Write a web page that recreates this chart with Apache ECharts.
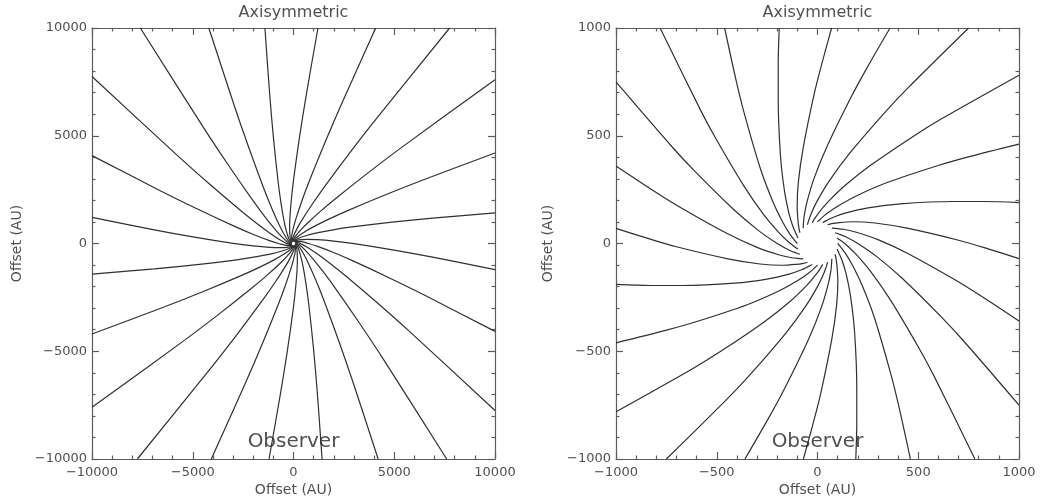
<!DOCTYPE html>
<html>
<head>
<meta charset="utf-8">
<script src="https://cdn.jsdelivr.net/npm/echarts@6/dist/echarts.min.js"></script>
<style>
  html, body { margin: 0; padding: 0; background: #ffffff; }
  #chart { width: 1041px; height: 503px; }
</style>
</head>
<body>
<div id="chart"></div>
<script>
// Panel texts
const panelTitles = ['Axisymmetric', 'Axisymmetric'];
const axisTitle = 'Offset (AU)';
const observerLabel = 'Observer';

// Axis ranges and major tick steps (AU)
const wideRange = [-10000, 10000];
const wideStep = 5000;
const coreRange = [-1000, 1000];
const coreStep = 500;

// Infall streamlines on the 10000 AU scale, [x, y] in AU, from the box edge
// inward to the 100 AU circle where each one lands.
const wideStreamlines = [
  // entering through the right edge
  [[10000, 7603], [5386, 4472], [3746, 3312], [2127, 2115], [1333, 1491], [713, 965], [339, 612], [61, 294], [-50, 87]],
  [[10000, 4201], [6360, 2925], [4476, 2229], [2602, 1493], [1674, 1095], [938, 748], [486, 504], [135, 268], [-26, 97]],
  [[10000, 1418], [6900, 1180], [4900, 995], [2900, 768], [1900, 624], [1100, 480], [600, 361], [200, 224], [0, 100]],
  [[10000, -1214], [6970, -647], [4991, -307], [3000, -8], [1997, 111], [1187, 179], [673, 193], [251, 164], [26, 97]],
  [[10000, -4079], [6565, -2428], [4741, -1588], [2896, -785], [1958, -409], [1192, -135], [700, 12], [285, 94], [50, 87]],
  [[10000, -7749], [5713, -4045], [4169, -2761], [2594, -1507], [1785, -902], [1117, -439], [679, -169], [300, 17], [71, 71]],
  // entering through the top edge
  [[-7603, 10000], [-4472, 5386], [-3312, 3746], [-2115, 2127], [-1491, 1333], [-965, 713], [-612, 339], [-294, 61], [-87, -50]],
  [[-4201, 10000], [-2925, 6360], [-2229, 4476], [-1493, 2602], [-1095, 1674], [-748, 938], [-504, 486], [-268, 135], [-97, -26]],
  [[-1418, 10000], [-1180, 6900], [-995, 4900], [-768, 2900], [-624, 1900], [-480, 1100], [-361, 600], [-224, 200], [-100, 0]],
  [[1214, 10000], [647, 6970], [307, 4991], [8, 3000], [-111, 1997], [-179, 1187], [-193, 673], [-164, 251], [-97, 26]],
  [[4079, 10000], [2428, 6565], [1588, 4741], [785, 2896], [409, 1958], [135, 1192], [-12, 700], [-94, 285], [-87, 50]],
  [[7749, 10000], [4045, 5713], [2761, 4169], [1507, 2594], [902, 1785], [439, 1117], [169, 679], [-17, 300], [-71, 71]],
  // entering through the left edge
  [[-10000, -7603], [-5386, -4472], [-3746, -3312], [-2127, -2115], [-1333, -1491], [-713, -965], [-339, -612], [-61, -294], [50, -87]],
  [[-10000, -4201], [-6360, -2925], [-4476, -2229], [-2602, -1493], [-1674, -1095], [-938, -748], [-486, -504], [-135, -268], [26, -97]],
  [[-10000, -1418], [-6900, -1180], [-4900, -995], [-2900, -768], [-1900, -624], [-1100, -480], [-600, -361], [-200, -224], [0, -100]],
  [[-10000, 1214], [-6970, 647], [-4991, 307], [-3000, 8], [-1997, -111], [-1187, -179], [-673, -193], [-251, -164], [-26, -97]],
  [[-10000, 4079], [-6565, 2428], [-4741, 1588], [-2896, 785], [-1958, 409], [-1192, 135], [-700, -12], [-285, -94], [-50, -87]],
  [[-10000, 7749], [-5713, 4045], [-4169, 2761], [-2594, 1507], [-1785, 902], [-1117, 439], [-679, 169], [-300, -17], [-71, -71]],
  // entering through the bottom edge
  [[7603, -10000], [4472, -5386], [3312, -3746], [2115, -2127], [1491, -1333], [965, -713], [612, -339], [294, -61], [87, 50]],
  [[4201, -10000], [2925, -6360], [2229, -4476], [1493, -2602], [1095, -1674], [748, -938], [504, -486], [268, -135], [97, 26]],
  [[1418, -10000], [1180, -6900], [995, -4900], [768, -2900], [624, -1900], [480, -1100], [361, -600], [224, -200], [100, 0]],
  [[-1214, -10000], [-647, -6970], [-307, -4991], [-8, -3000], [111, -1997], [179, -1187], [193, -673], [164, -251], [97, -26]],
  [[-4079, -10000], [-2428, -6565], [-1588, -4741], [-785, -2896], [-409, -1958], [-135, -1192], [12, -700], [94, -285], [87, -50]],
  [[-7749, -10000], [-4045, -5713], [-2761, -4169], [-1507, -2594], [-902, -1785], [-439, -1117], [-169, -679], [17, -300], [71, -71]]
];

// Infall streamlines on the 1000 AU scale, ending on the 100 AU circle
const coreStreamlines = [
  // entering through the right edge
  [[1000, 781], [620, 581], [486, 504], [265, 364], [135, 268], [52, 193], [8, 145], [-15, 114], [-26, 97]],
  [[1000, 461], [749, 402], [599, 362], [349, 284], [200, 224], [100, 173], [45, 138], [15, 114], [0, 100]],
  [[1000, 190], [828, 195], [672, 195], [411, 184], [251, 165], [141, 142], [79, 122], [44, 106], [26, 97]],
  [[1000, -70], [850, -26], [700, 15], [444, 71], [285, 95], [173, 101], [108, 97], [70, 92], [50, 87]],
  [[1000, -360], [814, -245], [680, -167], [448, -46], [300, 18], [193, 52], [129, 66], [91, 70], [71, 71]],
  [[1000, -750], [722, -449], [613, -339], [420, -161], [294, -61], [200, 0], [142, 30], [106, 44], [87, 50]],
  // entering through the top edge
  [[-781, 1000], [-581, 620], [-504, 486], [-364, 265], [-268, 135], [-193, 52], [-145, 8], [-114, -15], [-97, -26]],
  [[-461, 1000], [-402, 749], [-362, 599], [-284, 349], [-224, 200], [-173, 100], [-138, 45], [-114, 15], [-100, 0]],
  [[-190, 1000], [-195, 828], [-195, 672], [-184, 411], [-165, 251], [-142, 141], [-122, 79], [-106, 44], [-97, 26]],
  [[70, 1000], [26, 850], [-15, 700], [-71, 444], [-95, 285], [-101, 173], [-97, 108], [-92, 70], [-87, 50]],
  [[360, 1000], [245, 814], [167, 680], [46, 448], [-18, 300], [-52, 193], [-66, 129], [-70, 91], [-71, 71]],
  [[750, 1000], [449, 722], [339, 613], [161, 420], [61, 294], [0, 200], [-30, 142], [-44, 106], [-50, 87]],
  // entering through the left edge
  [[-1000, -781], [-620, -581], [-486, -504], [-265, -364], [-135, -268], [-52, -193], [-8, -145], [15, -114], [26, -97]],
  [[-1000, -461], [-749, -402], [-599, -362], [-349, -284], [-200, -224], [-100, -173], [-45, -138], [-15, -114], [0, -100]],
  [[-1000, -190], [-828, -195], [-672, -195], [-411, -184], [-251, -165], [-141, -142], [-79, -122], [-44, -106], [-26, -97]],
  [[-1000, 70], [-850, 26], [-700, -15], [-444, -71], [-285, -95], [-173, -101], [-108, -97], [-70, -92], [-50, -87]],
  [[-1000, 360], [-814, 245], [-680, 167], [-448, 46], [-300, -18], [-193, -52], [-129, -66], [-91, -70], [-71, -71]],
  [[-1000, 750], [-722, 449], [-613, 339], [-420, 161], [-294, 61], [-200, 0], [-142, -30], [-106, -44], [-87, -50]],
  // entering through the bottom edge
  [[781, -1000], [581, -620], [504, -486], [364, -265], [268, -135], [193, -52], [145, -8], [114, 15], [97, 26]],
  [[461, -1000], [402, -749], [362, -599], [284, -349], [224, -200], [173, -100], [138, -45], [114, -15], [100, 0]],
  [[190, -1000], [195, -828], [195, -672], [184, -411], [165, -251], [142, -141], [122, -79], [106, -44], [97, -26]],
  [[-70, -1000], [-26, -850], [15, -700], [71, -444], [95, -285], [101, -173], [97, -108], [92, -70], [87, -50]],
  [[-360, -1000], [-245, -814], [-167, -680], [-46, -448], [18, -300], [52, -193], [66, -129], [70, -91], [71, -71]],
  [[-750, -1000], [-449, -722], [-339, -613], [-161, -420], [-61, -294], [0, -200], [30, -142], [44, -106], [50, -87]]
];

const FONT = '"DejaVu Sans", Verdana, sans-serif';
const TEXT_COLOR = '#505050';
const FRAME_COLOR = '#5c5c5c';
const CURVE_COLOR = '#303030';

const panels = [
  { left: 92, top: 28, width: 403, height: 431, range: wideRange, step: wideStep, lines: wideStreamlines, yTitleX: 17 },
  { left: 616, top: 28, width: 403, height: 431, range: coreRange, step: coreStep, lines: coreStreamlines, yTitleX: 548 }
];

const minusFormatter = v => String(v).replace('-', '\u2212');

function makeAxis(gridIndex, p, position, withLabels) {
  return {
    type: 'value',
    gridIndex: gridIndex,
    position: position,
    min: p.range[0],
    max: p.range[1],
    interval: p.step,
    axisLine: { show: true, onZero: false, lineStyle: { color: FRAME_COLOR, width: 1.2 } },
    axisTick: { show: true, inside: true, length: 7, lineStyle: { color: FRAME_COLOR, width: 1.2 } },
    minorTick: { show: true, splitNumber: 5, length: 3.5, lineStyle: { color: FRAME_COLOR, width: 1.2 } },
    splitLine: { show: false },
    minorSplitLine: { show: false },
    axisLabel: {
      show: withLabels,
      margin: position === 'bottom' ? 7 : 5,
      color: TEXT_COLOR,
      fontFamily: FONT,
      fontSize: 13,
      formatter: minusFormatter
    }
  };
}

const grid = [], xAxis = [], yAxis = [], series = [], graphic = [];

panels.forEach((p, i) => {
  grid.push({ left: p.left, top: p.top, width: p.width, height: p.height, containLabel: false });
  xAxis.push(makeAxis(i, p, 'bottom', true));
  xAxis.push(makeAxis(i, p, 'top', false));
  yAxis.push(makeAxis(i, p, 'left', true));
  yAxis.push(makeAxis(i, p, 'right', false));
  p.lines.forEach(line => {
    series.push({
      type: 'line',
      xAxisIndex: i * 2,
      yAxisIndex: i * 2,
      data: line,
      smooth: 0.3,
      showSymbol: false,
      clip: true,
      silent: true,
      animation: false,
      lineStyle: { color: CURVE_COLOR, width: 1.2 }
    });
  });
  const cx = p.left + p.width / 2;
  const cy = p.top + p.height / 2;
  graphic.push({
    type: 'text', x: cx, y: 13,
    style: { text: panelTitles[i], font: '16px ' + FONT, fill: TEXT_COLOR, textAlign: 'center', textVerticalAlign: 'middle' }
  });
  graphic.push({
    type: 'text', x: cx, y: 490,
    style: { text: axisTitle, font: '14px ' + FONT, fill: TEXT_COLOR, textAlign: 'center', textVerticalAlign: 'middle' }
  });
  graphic.push({
    type: 'text', x: p.yTitleX, y: cy, rotation: Math.PI / 2,
    style: { text: axisTitle, font: '14px ' + FONT, fill: TEXT_COLOR, textAlign: 'center', textVerticalAlign: 'middle' }
  });
  graphic.push({
    type: 'text', x: cx, y: 442,
    style: { text: observerLabel, font: '20px ' + FONT, fill: TEXT_COLOR, textAlign: 'center', textVerticalAlign: 'middle' }
  });
});

const chart = echarts.init(document.getElementById('chart'), null, { renderer: 'canvas' });
chart.setOption({
  backgroundColor: '#ffffff',
  animation: false,
  grid: grid,
  xAxis: xAxis,
  yAxis: yAxis,
  series: series,
  graphic: graphic
});
</script>
</body>
</html>
